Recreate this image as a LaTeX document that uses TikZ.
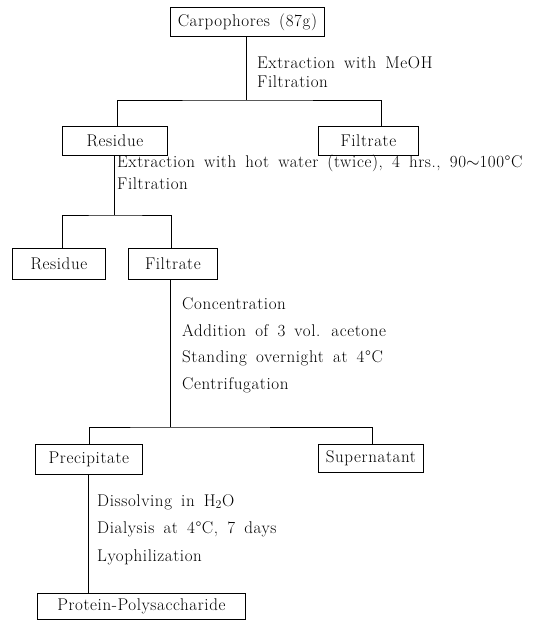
\documentclass[tikz,border=0pt]{standalone}
\usepackage{fontspec}
\setmainfont{Latin Modern Roman}[LetterSpace=3.5,WordSpace=1.6]
\begin{document}
\begin{tikzpicture}[x=1pt,y=-1pt,
  box/.style={draw,line width=0.8pt,inner sep=0pt,anchor=north west,font=\fontsize{17}{19}\selectfont},
  lbl/.style={anchor=west,inner sep=0pt,font=\fontsize{17}{19}\selectfont},
  ln/.style={line width=0.8pt}]
\useasboundingbox (0,0) rectangle (534,620);
% boxes
\node[box,minimum width=154pt,minimum height=29pt] (carp) at (170,7) {Carpophores (87g)};
\node[box,minimum width=105pt,minimum height=29pt] (res1) at (62,126) {Residue};
\node[box,minimum width=100pt,minimum height=29pt] (fil1) at (318,126) {Filtrate};
\node[box,minimum width=93pt,minimum height=31pt] (res2) at (12,248) {Residue};
\node[box,minimum width=89pt,minimum height=31pt] (fil2) at (128,248) {Filtrate};
\node[box,minimum width=107pt,minimum height=30pt] (prec) at (35,444) {Precipitate};
\node[box,minimum width=105pt,minimum height=28pt] (sup) at (318,444) {Supernatant};
\node[box,minimum width=208pt,minimum height=26pt] (prot) at (37,593) {Protein-Polysaccharide};
% junctions
\coordinate (j1) at (246,100);
\coordinate (j2) at (114,215);
\coordinate (j3) at (170,427);
% connectors
\draw[ln] ([xshift=76pt]carp.south west) -- (j1);
\draw[ln] ([xshift=55pt]res1.north west) |- (j1) -| ([xshift=63pt]fil1.north west);
\draw[ln] ([xshift=52pt]res1.south west) -- (j2);
\draw[ln] ([xshift=50pt]res2.north west) |- (j2) -| ([xshift=43pt]fil2.north west);
\draw[ln] ([xshift=42pt]fil2.south west) -- (j3);
\draw[ln] ([xshift=54pt]prec.north west) |- (j3) -| ([xshift=54pt]sup.north west);
\draw[ln] ([xshift=53pt]prec.south west) -- ([xshift=51pt]prot.north west);
% labels
\node[lbl] (t1) at (257,63) {Extraction with MeOH};
\node[lbl] (t2) at (257,82) {Filtration};
\node[lbl] (t3) at (117,163) {Extraction with hot water (twice), 4 hrs., 90$\sim$100°C};
\node[lbl] (t4) at (117,184) {Filtration};
\node[lbl] (t5) at (182,304) {Concentration};
\node[lbl] (t6) at (182,331) {Addition of 3 vol. acetone};
\node[lbl] (t7) at (182,358) {Standing overnight at 4°C};
\node[lbl] (t8) at (182,385) {Centrifugation};
\node[lbl] (t9) at (97,502) {Dissolving in H\textsubscript{2}O};
\node[lbl] (t10) at (97,529) {Dialysis at 4°C, 7 days};
\node[lbl] (t11) at (97,557) {Lyophilization};
\end{tikzpicture}
\end{document}
